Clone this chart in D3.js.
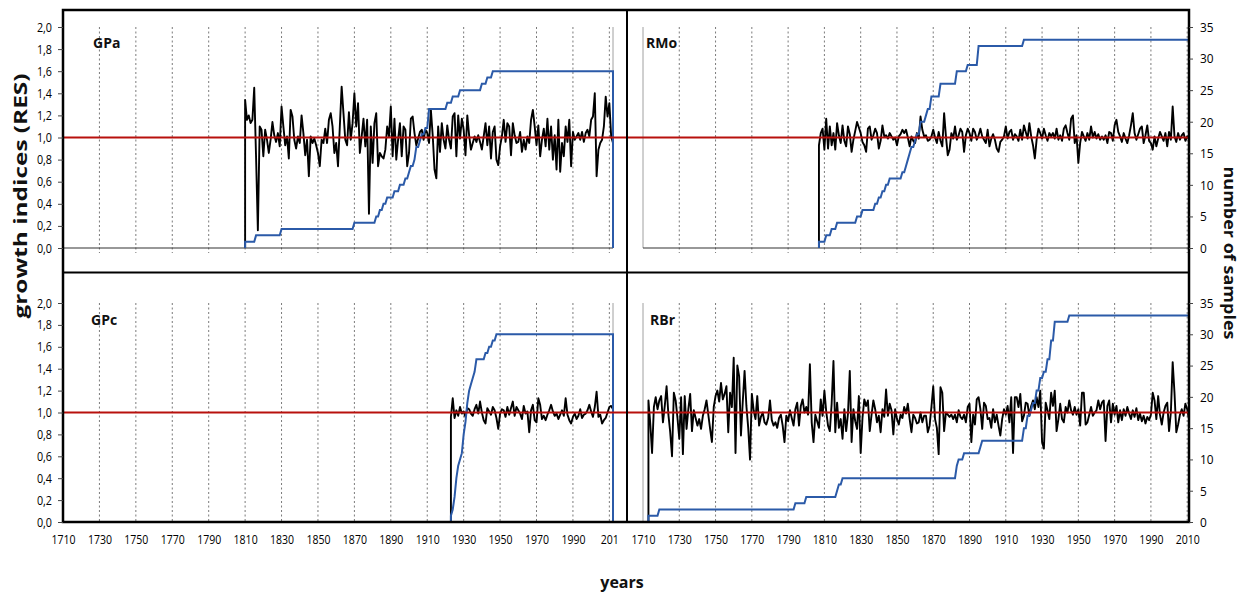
<!DOCTYPE html>
<html>
<head>
<meta charset="utf-8">
<style>
  body { margin: 0; background: #ffffff; }
  svg text { font-family: "Open Sans", sans-serif; fill: #111; }
  .axis .domain { display: none; }
  .axis line { stroke: #444; }
</style>
</head>
<body>
<script src="https://d3js.org/d3.v7.min.js"></script>
<div id="chart"></div>
<script>
// ---- ticks and labels ----
var yearTicks = [1710, 1730, 1750, 1770, 1790, 1810, 1830, 1850, 1870, 1890, 1910, 1930, 1950, 1970, 1990, 2010];
var leftYearLabels = ["1710", "1730", "1750", "1770", "1790", "1810", "1830", "1850", "1870", "1890", "1910", "1930", "1950", "1970", "1990", "201"];
var rightYearLabels = ["1710", "1730", "1750", "1770", "1790", "1810", "1830", "1850", "1870", "1890", "1910", "1930", "1950", "1970", "1990", "2010"];
var resTicks = [0, 0.2, 0.4, 0.6, 0.8, 1.0, 1.2, 1.4, 1.6, 1.8, 2.0];
var sampleTicks = [0, 5, 10, 15, 20, 25, 30, 35];

// ---- GPa (top left) ----
var gpaStart = 1810, gpaEnd = 2012;
var gpaRes = [
  1.34, 1.16, 1.20, 1.13, 1.16, 1.45, 0.83, 0.16, 1.10, 1.07,
  0.83, 1.07, 0.98, 0.86, 0.98, 1.14, 1.02, 0.96, 1.04, 0.92,
  1.28, 1.10, 0.93, 1.01, 0.81, 1.25, 1.19, 0.98, 0.90, 1.01,
  0.95, 1.20, 1.04, 0.84, 0.98, 0.65, 1.01, 0.95, 0.99, 0.93,
  0.86, 0.74, 0.98, 0.95, 1.08, 0.95, 1.16, 1.22, 1.10, 0.86,
  0.95, 0.74, 1.10, 1.46, 1.22, 0.98, 0.93, 1.23, 0.98, 1.13,
  1.40, 1.10, 1.31, 0.86, 1.01, 1.17, 0.92, 1.16, 0.31, 1.10,
  0.77, 1.13, 1.22, 0.74, 0.86, 0.83, 0.81, 0.89, 1.10, 1.01,
  1.28, 0.83, 1.17, 0.80, 0.98, 1.13, 0.83, 1.10, 1.07, 0.74,
  0.86, 1.17, 1.19, 1.04, 0.93, 0.99, 1.05, 1.07, 0.98, 1.07,
  1.04, 0.95, 1.25, 1.02, 0.71, 0.63, 1.10, 0.87, 1.13, 0.98,
  0.90, 1.11, 0.98, 0.90, 1.19, 1.22, 0.83, 1.20, 0.99, 1.17,
  1.07, 0.84, 1.20, 1.02, 0.89, 0.95, 1.01, 0.96, 1.02, 0.96,
  0.89, 1.01, 1.13, 0.93, 1.10, 0.81, 1.05, 1.10, 0.80, 0.75,
  0.92, 1.01, 1.16, 0.96, 1.13, 1.10, 0.84, 1.13, 1.02, 0.95,
  0.96, 1.05, 0.87, 0.98, 0.89, 1.01, 0.95, 1.16, 1.25, 1.10,
  0.93, 1.11, 0.83, 0.98, 1.08, 0.92, 1.17, 0.89, 1.10, 0.80,
  1.02, 0.71, 1.16, 0.69, 0.95, 0.83, 1.10, 0.96, 1.16, 0.74,
  1.05, 0.98, 1.01, 1.04, 0.98, 1.05, 0.96, 1.04, 1.07, 1.01,
  1.16, 1.19, 1.40, 0.65, 0.89, 0.95, 0.98, 1.10, 1.37, 1.19,
  1.31, 1.01, 0.95
];
var gpaDepth = [[1810, 1], [1816, 2], [1830, 3], [1870, 4], [1882, 5], [1884, 6], [1886, 7], [1888, 8],
  [1892, 9], [1895, 10], [1898, 11], [1900, 12], [1901, 13], [1903, 14], [1904, 16], [1906, 17],
  [1907, 18], [1909, 19], [1911, 22], [1921, 23], [1924, 24], [1928, 25], [1940, 26], [1943, 27], [1946, 28]];

// ---- RMo (top right) ----
var rmoStart = 1807, rmoEnd = 2011;
var rmoRes = [
  0.93, 1.04, 1.08,
  0.89, 1.17, 0.90, 1.10, 0.93, 1.04, 0.89, 1.13, 1.02, 0.95,
  1.11, 0.97, 0.92, 1.10, 1.03, 0.87, 0.98, 1.06, 1.14, 1.09,
  1.04, 0.96, 0.93, 0.87, 1.08, 1.10, 0.98, 1.02, 1.08, 1.04,
  0.90, 0.97, 1.11, 1.01, 1.02, 0.99, 1.04, 1.01, 0.98, 1.00,
  0.93, 1.01, 1.03, 1.07, 1.04, 1.07, 1.00, 0.92, 1.01, 0.97,
  0.95, 1.04, 0.99, 1.19, 1.07, 1.01, 1.02, 0.97, 0.98, 1.01,
  1.07, 1.00, 0.95, 1.05, 0.97, 0.92, 1.22, 1.01, 0.84, 0.89,
  1.04, 0.99, 1.10, 0.98, 1.02, 1.08, 1.05, 0.87, 1.02, 1.08,
  1.04, 0.97, 1.08, 1.05, 0.98, 1.02, 1.08, 1.01, 0.98, 0.95,
  1.07, 0.92, 0.99, 1.03, 0.98, 0.90, 0.87, 0.96, 0.98, 1.01,
  1.10, 0.99, 1.05, 1.07, 0.98, 1.03, 1.01, 0.97, 1.07, 0.98,
  1.11, 1.05, 0.99, 1.13, 1.01, 0.93, 0.81, 0.98, 1.08, 1.04,
  0.99, 1.08, 1.02, 0.97, 1.04, 1.01, 1.04, 0.99, 1.08, 0.98,
  1.02, 0.97, 1.08, 1.11, 1.04, 0.98, 1.17, 1.20, 0.95, 1.02,
  0.77, 0.95, 1.05, 1.01, 0.97, 1.04, 0.98, 1.10, 1.00, 1.05,
  0.99, 1.03, 0.98, 1.01, 0.98, 1.02, 0.95, 1.05, 1.04, 0.97,
  1.11, 1.16, 1.05, 1.01, 0.96, 1.04, 0.99, 0.95, 1.02, 1.11,
  1.22, 1.04, 0.98, 1.03, 1.08, 1.10, 0.95, 1.02, 1.11, 0.97,
  0.95, 0.89, 1.01, 0.92, 0.99, 1.05, 1.01, 0.97, 1.04, 0.92,
  1.05, 0.98, 1.28, 1.01, 0.96, 1.04, 0.98, 1.02, 1.04, 0.97,
  1.01, 0.99
];
var rmoDepth = [[1807, 1], [1811, 2], [1814, 3], [1817, 4], [1828, 5], [1831, 6], [1838, 7], [1840, 8],
  [1842, 9], [1844, 10], [1846, 11], [1853, 12], [1855, 13], [1856, 14], [1857, 15], [1858, 16],
  [1860, 17], [1861, 18], [1863, 20], [1866, 21], [1867, 22], [1869, 24], [1874, 26], [1883, 28],
  [1889, 29], [1895, 32], [1920, 33]];

// ---- GPc (bottom left) ----
var gpcStart = 1923, gpcEnd = 2012;
var gpcRes = [
  0.96, 1.13, 0.95, 1.02, 0.97, 1.05, 0.99,
  1.01, 0.96, 1.04, 1.03, 0.99, 0.97, 1.03, 1.07, 0.99, 1.10,
  1.00, 0.93, 0.90, 1.04, 1.01, 0.98, 1.05, 1.02, 0.95, 0.85,
  0.99, 1.03, 1.02, 0.96, 1.05, 0.98, 1.04, 1.10, 0.97, 1.05,
  1.02, 0.99, 0.94, 1.06, 0.99, 1.01, 0.82, 1.02, 1.07, 0.93,
  0.91, 1.13, 1.07, 0.94, 0.97, 0.93, 0.98, 1.02, 1.07, 1.01,
  0.97, 0.99, 0.94, 0.98, 1.02, 0.97, 1.13, 0.98, 0.93, 0.90,
  0.96, 0.99, 0.94, 0.97, 1.03, 0.95, 0.98, 0.99, 1.02, 1.07,
  1.01, 0.96, 1.05, 1.19, 0.96, 0.98, 0.90, 0.93, 0.95, 1.00,
  1.05, 1.06, 1.03
];
var gpcDepth = [[1923, 1], [1924, 2], [1925, 4], [1926, 7], [1927, 9], [1928, 10], [1929, 11], [1930, 14],
  [1931, 16], [1932, 19], [1933, 21], [1934, 22], [1935, 23], [1936, 24], [1937, 26], [1942, 27],
  [1944, 28], [1946, 29], [1948, 30]];

// ---- RBr (bottom right) ----
var rbrStart = 1713, rbrEnd = 2011;
var rbrRes = [
  1.11, 0.90, 0.63, 1.05, 1.14, 1.03, 1.11,
  1.15, 0.91, 1.06, 1.24, 0.98, 0.82, 0.60, 1.18, 1.11, 0.95,
  0.76, 1.14, 0.62, 1.15, 0.85, 1.03, 1.17, 0.83, 1.02, 0.95,
  0.88, 0.94, 0.85, 0.97, 1.03, 1.11, 0.98, 0.85, 0.73, 1.05,
  1.15, 1.20, 1.10, 1.27, 1.12, 1.17, 1.24, 0.82, 1.18, 1.05,
  1.50, 0.63, 1.43, 1.33, 0.79, 1.10, 1.38, 1.06, 0.86, 0.57,
  1.17, 1.02, 0.94, 1.15, 0.88, 0.96, 1.00, 0.91, 0.89, 0.95,
  1.11, 0.93, 0.88, 0.91, 0.86, 0.95, 0.98, 0.88, 0.73, 0.97,
  0.92, 1.02, 0.95, 0.88, 1.03, 1.09, 0.88, 1.06, 1.12, 1.00,
  1.05, 0.98, 1.44, 0.91, 0.73, 0.98, 0.92, 0.86, 1.12, 0.97,
  1.20, 1.01, 0.88, 0.83, 1.08, 1.47, 0.82, 1.09, 0.86, 0.94,
  0.76, 1.03, 0.83, 0.99, 1.38, 0.73, 1.03, 0.92, 0.85, 1.15,
  0.63, 0.95, 1.12, 1.06, 1.11, 0.83, 0.98, 1.11, 1.03, 0.91,
  0.97, 0.82, 1.03, 0.96, 1.21, 0.97, 1.08, 1.02, 0.80, 1.03,
  0.94, 0.89, 0.98, 0.95, 1.05, 0.99, 1.08, 0.94, 0.82, 0.98,
  0.95, 0.90, 0.91, 1.00, 0.91, 0.97, 0.97, 0.82, 0.88, 1.05,
  1.24, 0.94, 0.86, 0.62, 1.23, 1.18, 0.83, 1.00, 0.98, 0.96,
  0.98, 0.94, 0.98, 0.91, 1.02, 0.96, 0.94, 0.98, 0.91, 1.05,
  1.08, 0.73, 0.98, 0.89, 1.12, 1.14, 1.03, 0.85, 1.09, 1.06,
  0.94, 0.95, 0.86, 1.03, 0.91, 0.98, 0.88, 0.79, 0.94, 1.03,
  0.98, 1.06, 0.91, 1.14, 0.63, 1.14, 1.14, 1.05, 1.17, 0.92,
  0.97, 1.09, 1.08, 0.97, 1.06, 1.11, 1.03, 1.14, 1.05, 1.20,
  0.73, 0.67, 1.09, 1.02, 0.94, 1.18, 1.06, 1.20, 0.83, 0.94,
  1.08, 0.94, 0.91, 1.05, 1.00, 1.11, 1.02, 0.98, 1.05, 0.98,
  1.03, 0.88, 1.18, 1.18, 0.89, 0.91, 0.98, 1.05, 0.97, 1.00,
  1.02, 1.11, 1.03, 1.09, 1.11, 0.74, 1.06, 1.11, 0.91, 1.08,
  0.98, 1.06, 0.91, 1.02, 0.93, 1.03, 0.97, 1.05, 0.99, 0.94,
  1.02, 0.96, 1.04, 0.93, 0.99, 0.92, 0.97, 0.90, 0.96, 0.93,
  0.98, 1.18, 1.11, 0.94, 1.15, 0.98, 0.89, 1.00, 1.06, 1.09,
  0.83, 1.00, 1.46, 1.18, 0.82, 0.89, 0.98, 1.03, 0.97, 1.08,
  1.03, 0.94
];
var rbrDepth = [[1713, 1], [1719, 2], [1794, 3], [1800, 4], [1817, 5], [1818, 6], [1820, 7], [1883, 9],
  [1884, 10], [1887, 11], [1896, 12], [1897, 13], [1920, 15], [1922, 17], [1924, 18], [1925, 19],
  [1927, 21], [1929, 23], [1931, 24], [1933, 26], [1935, 29], [1937, 32], [1945, 33]];

// ---- layout ----
var W = 1240, H = 594;
var frame = { left: 63, right: 1189, top: 10, bottom: 522, midX: 627, midY: 272.5 };

var svg = d3.select("#chart").append("svg")
  .attr("width", W)
  .attr("height", H);

var xLeft = d3.scaleLinear().domain([1710, 2012]).range([63, 613]);
var xRight = d3.scaleLinear().domain([1710, 2011]).range([643, 1189]);
var rows = [
  { res: d3.scaleLinear().domain([0, 2]).range([248, 27]), n: d3.scaleLinear().domain([0, 35]).range([248, 27]) },
  { res: d3.scaleLinear().domain([0, 2]).range([522, 303]), n: d3.scaleLinear().domain([0, 35]).range([522, 303]) }
];

var panels = [
  { name: "GPa", x: xLeft, row: 0, start: gpaStart, end: gpaEnd, res: gpaRes, depth: gpaDepth, lx: 93, ly: 48 },
  { name: "RMo", x: xRight, row: 0, start: rmoStart, end: rmoEnd, res: rmoRes, depth: rmoDepth, lx: 646, ly: 48 },
  { name: "GPc", x: xLeft, row: 1, start: gpcStart, end: gpcEnd, res: gpcRes, depth: gpcDepth, lx: 91, ly: 325 },
  { name: "RBr", x: xRight, row: 1, start: rbrStart, end: rbrEnd, res: rbrRes, depth: rbrDepth, lx: 650, ly: 325 }
];

function squeeze(sel, k) {
  sel.each(function () {
    var w = this.getComputedTextLength();
    this.setAttribute("textLength", w * k);
    this.setAttribute("lengthAdjust", "spacingAndGlyphs");
  });
}

var comma = function (d) { return d3.format(".1f")(d).replace(".", ","); };

panels.forEach(function (p) {
  var x = p.x, yr = rows[p.row].res, yn = rows[p.row].n;
  var g = svg.append("g");
  var y0 = yr(0), y2 = yr(2);

  // dotted year gridlines
  g.selectAll("line.grid")
    .data(yearTicks.slice(1))
    .enter().append("line")
    .attr("x1", function (d) { return x(d); })
    .attr("x2", function (d) { return x(d); })
    .attr("y1", y2)
    .attr("y2", p.row === 0 ? y0 + 5 : y0)
    .attr("stroke", "#7a7a7a")
    .attr("stroke-width", 1)
    .attr("stroke-dasharray", "2,2.5");

  // plot area edge (grey)
  var edgeX = x === xLeft ? x.range()[1] : x.range()[0];
  g.append("line")
    .attr("x1", edgeX).attr("x2", edgeX)
    .attr("y1", y2).attr("y2", y0)
    .attr("stroke", "#a0a0a0").attr("stroke-width", 1);

  // zero line
  g.append("line")
    .attr("x1", x.range()[0]).attr("x2", x.range()[1])
    .attr("y1", y0).attr("y2", y0)
    .attr("stroke", "#333").attr("stroke-width", 1.2);

  // growth indices
  var resPts = [[p.start, 0]].concat(p.res.map(function (v, i) { return [p.start + i, v]; }));
  g.append("path")
    .datum(resPts)
    .attr("fill", "none")
    .attr("stroke", "#000")
    .attr("stroke-width", 1.9)
    .attr("stroke-linejoin", "round")
    .attr("d", d3.line().x(function (d) { return x(d[0]); }).y(function (d) { return yr(d[1]); }));

  // sample depth
  var pts = [[p.start, 0]], prev = 0;
  p.depth.forEach(function (d, i) {
    if (i > 0) pts.push([d[0] - 1, prev]);
    pts.push([d[0], d[1]]);
    prev = d[1];
  });
  pts.push([p.end, prev]);
  pts.push([p.end, 0]);
  g.append("path")
    .datum(pts)
    .attr("fill", "none")
    .attr("stroke", "#2b5aa8")
    .attr("stroke-width", 2)
    .attr("d", d3.line().x(function (d) { return x(d[0]); }).y(function (d) { return yn(d[1]); }));

  // panel label
  svg.append("text")
    .attr("x", p.lx).attr("y", p.ly)
    .attr("font-size", 14).attr("font-weight", "bold")
    .text(p.name);
});

// red reference line at 1.0
rows.forEach(function (r) {
  svg.append("line")
    .attr("x1", frame.left).attr("x2", frame.right)
    .attr("y1", r.res(1)).attr("y2", r.res(1))
    .attr("stroke", "#b8100c").attr("stroke-width", 1.9);
});

// frame and separators
svg.append("rect")
  .attr("x", frame.left).attr("y", frame.top)
  .attr("width", frame.right - frame.left).attr("height", frame.bottom - frame.top)
  .attr("fill", "none").attr("stroke", "#000").attr("stroke-width", 2.5);
svg.append("line")
  .attr("x1", frame.midX).attr("x2", frame.midX).attr("y1", frame.top).attr("y2", frame.bottom)
  .attr("stroke", "#000").attr("stroke-width", 2);
svg.append("line")
  .attr("x1", frame.left).attr("x2", frame.right).attr("y1", frame.midY).attr("y2", frame.midY)
  .attr("stroke", "#000").attr("stroke-width", 2);

// axes
rows.forEach(function (r) {
  var la = svg.append("g").attr("class", "axis")
    .attr("transform", "translate(" + frame.left + ",0)")
    .call(d3.axisLeft(r.res).tickValues(resTicks).tickSize(5).tickPadding(6).tickFormat(comma));
  la.selectAll("text").attr("font-size", 12.5).style("font-family", "Open Sans").style("fill", "#000").call(squeeze, 0.86);

  var ra = svg.append("g").attr("class", "axis")
    .attr("transform", "translate(" + frame.right + ",0)")
    .call(d3.axisRight(r.n).tickValues(sampleTicks).tickSize(4).tickPadding(7));
  ra.selectAll("text").attr("font-size", 13.5).style("font-family", "Open Sans").style("fill", "#000").call(squeeze, 0.88);
});

[[xLeft, leftYearLabels], [xRight, rightYearLabels]].forEach(function (a) {
  var xa = svg.append("g").attr("class", "axis")
    .attr("transform", "translate(0," + frame.bottom + ")")
    .call(d3.axisBottom(a[0]).tickValues(yearTicks).tickSize(0).tickPadding(12)
      .tickFormat(function (d, i) { return a[1][i]; }));
  xa.selectAll("text").attr("font-size", 13.5).style("font-family", "Open Sans").style("fill", "#000").call(squeeze, 0.78);
});

// axis titles
svg.append("text")
  .attr("transform", "translate(27,196) rotate(-90)")
  .attr("text-anchor", "middle")
  .attr("font-size", 17).attr("font-weight", "bold")
  .attr("textLength", 245).attr("lengthAdjust", "spacingAndGlyphs")
  .text("growth indices (RES)");
svg.append("text")
  .attr("transform", "translate(1224,253) rotate(90)")
  .attr("text-anchor", "middle")
  .attr("font-size", 16).attr("font-weight", "bold")
  .attr("textLength", 173).attr("lengthAdjust", "spacingAndGlyphs")
  .text("number of samples");
svg.append("text")
  .attr("x", 622).attr("y", 588)
  .attr("text-anchor", "middle")
  .attr("font-size", 16).attr("font-weight", "bold")
  .text("years");
</script>
</body>
</html>
